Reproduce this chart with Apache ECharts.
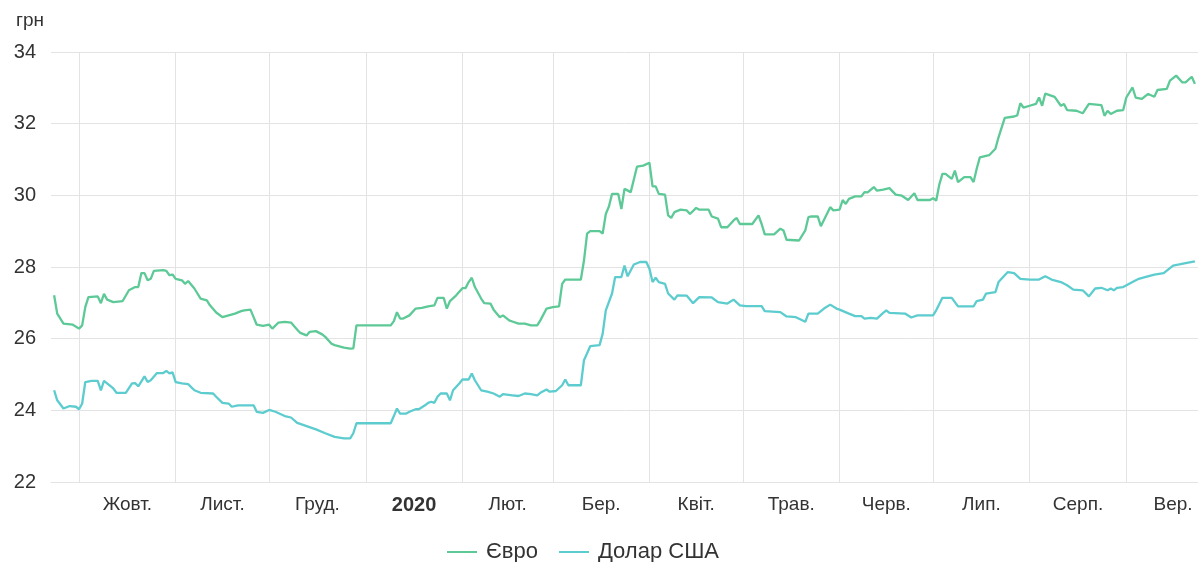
<!DOCTYPE html>
<html>
<head>
<meta charset="utf-8">
<script src="https://cdn.jsdelivr.net/npm/echarts@6/dist/echarts.min.js"></script>
<style>
  html, body { margin: 0; padding: 0; background: #fff; }
  #chart { width: 1198px; height: 562px; }
</style>
</head>
<body>
<div id="chart"></div>
<script>
// Офіційний курс гривні: євро та долар США, вересень 2019 – вересень 2020

const eurDates = [
  '2019-09-23','2019-09-24','2019-09-26','2019-09-29','2019-10-01','2019-10-02','2019-10-03','2019-10-04',
  '2019-10-07','2019-10-08','2019-10-09','2019-10-10','2019-10-12','2019-10-15','2019-10-17','2019-10-19',
  '2019-10-20','2019-10-21','2019-10-22','2019-10-23','2019-10-24','2019-10-25','2019-10-28','2019-10-29',
  '2019-10-30','2019-10-31','2019-11-01','2019-11-03','2019-11-04','2019-11-05','2019-11-07','2019-11-09',
  '2019-11-11','2019-11-12','2019-11-14','2019-11-16','2019-11-18','2019-11-20','2019-11-22','2019-11-23',
  '2019-11-25','2019-11-26','2019-11-27','2019-11-29','2019-12-01','2019-12-02','2019-12-04','2019-12-06',
  '2019-12-08','2019-12-10','2019-12-11','2019-12-13','2019-12-14','2019-12-16','2019-12-18','2019-12-19',
  '2019-12-21','2019-12-22','2019-12-25','2019-12-27','2019-12-28','2019-12-29','2020-01-09','2020-01-10',
  '2020-01-11','2020-01-12','2020-01-13','2020-01-15','2020-01-17','2020-01-19','2020-01-21','2020-01-23',
  '2020-01-24','2020-01-26','2020-01-27','2020-01-28','2020-01-30','2020-02-01','2020-02-02','2020-02-03',
  '2020-02-04','2020-02-05','2020-02-07','2020-02-08','2020-02-10','2020-02-11','2020-02-13','2020-02-14',
  '2020-02-16','2020-02-17','2020-02-19','2020-02-21','2020-02-23','2020-02-25','2020-02-26','2020-02-28',
  '2020-03-01','2020-03-03','2020-03-04','2020-03-05','2020-03-10','2020-03-11','2020-03-12','2020-03-13',
  '2020-03-16','2020-03-17','2020-03-18','2020-03-19','2020-03-20','2020-03-22','2020-03-23','2020-03-24',
  '2020-03-26','2020-03-28','2020-03-30','2020-04-01','2020-04-02','2020-04-03','2020-04-04','2020-04-06',
  '2020-04-07','2020-04-08','2020-04-09','2020-04-11','2020-04-13','2020-04-14','2020-04-16','2020-04-17',
  '2020-04-20','2020-04-21','2020-04-23','2020-04-24','2020-04-26','2020-04-28','2020-04-29','2020-04-30',
  '2020-05-04','2020-05-06','2020-05-07','2020-05-08','2020-05-11','2020-05-13','2020-05-14','2020-05-15',
  '2020-05-19','2020-05-21','2020-05-22','2020-05-23','2020-05-25','2020-05-26','2020-05-29','2020-05-30',
  '2020-06-01','2020-06-02','2020-06-03','2020-06-04','2020-06-06','2020-06-08','2020-06-09','2020-06-10',
  '2020-06-12','2020-06-13','2020-06-15','2020-06-17','2020-06-19','2020-06-21','2020-06-23','2020-06-25',
  '2020-06-26','2020-06-30','2020-07-01','2020-07-02','2020-07-03','2020-07-04','2020-07-05','2020-07-07',
  '2020-07-08','2020-07-09','2020-07-11','2020-07-13','2020-07-14','2020-07-15','2020-07-16','2020-07-19',
  '2020-07-21','2020-07-22','2020-07-24','2020-07-27','2020-07-28','2020-07-29','2020-07-30','2020-08-01',
  '2020-08-03','2020-08-04','2020-08-05','2020-08-06','2020-08-09','2020-08-11','2020-08-12','2020-08-13',
  '2020-08-16','2020-08-18','2020-08-20','2020-08-24','2020-08-25','2020-08-26','2020-08-27','2020-08-29',
  '2020-08-31','2020-09-01','2020-09-03','2020-09-04','2020-09-06','2020-09-08','2020-09-10','2020-09-11',
  '2020-09-14','2020-09-15','2020-09-17','2020-09-19','2020-09-20','2020-09-22','2020-09-23'
];
const eurValues = [
  27.21,26.70,26.42,26.39,26.28,26.37,26.88,27.16,
  27.18,26.99,27.25,27.09,27.02,27.05,27.35,27.44,
  27.44,27.83,27.83,27.63,27.67,27.89,27.91,27.89,
  27.77,27.79,27.67,27.63,27.53,27.61,27.40,27.12,
  27.07,26.93,26.73,26.60,26.65,26.70,26.77,26.79,
  26.81,26.60,26.39,26.36,26.39,26.28,26.45,26.47,
  26.45,26.25,26.16,26.09,26.19,26.21,26.12,26.05,
  25.86,25.82,25.75,25.72,25.73,26.37,26.37,26.49,
  26.74,26.56,26.56,26.65,26.84,26.86,26.90,26.93,
  27.14,27.14,26.84,27.05,27.21,27.41,27.41,27.58,
  27.70,27.44,27.12,26.99,26.98,26.81,26.60,26.65,
  26.51,26.48,26.42,26.42,26.37,26.37,26.51,26.84,
  26.88,26.90,27.53,27.65,27.65,28.18,28.93,29.00,
  29.00,28.93,29.48,29.69,30.04,30.04,29.62,30.18,
  30.09,30.80,30.83,30.91,30.25,30.25,30.04,30.02,
  29.44,29.37,29.53,29.60,29.58,29.48,29.65,29.60,
  29.60,29.41,29.35,29.11,29.11,29.30,29.37,29.20,
  29.20,29.44,29.20,28.91,28.91,29.07,29.02,28.76,
  28.74,29.02,29.39,29.41,29.41,29.14,29.67,29.58,
  29.60,29.87,29.76,29.90,29.97,29.97,30.09,30.08,
  30.23,30.13,30.16,30.20,30.02,29.99,29.87,30.06,
  29.87,29.87,29.92,29.85,30.30,30.60,30.60,30.46,
  30.69,30.37,30.51,30.51,30.37,30.74,31.06,31.12,
  31.30,31.62,32.16,32.20,32.23,32.57,32.45,32.50,
  32.55,32.73,32.50,32.84,32.75,32.50,32.55,32.38,
  32.36,32.29,32.55,32.52,32.22,32.36,32.27,32.36,
  32.38,32.73,33.01,32.73,32.69,32.83,32.75,32.94,
  32.97,33.20,33.34,33.15,33.15,33.31,33.11
];

const usdDates = [
  '2019-09-23','2019-09-24','2019-09-26','2019-09-28','2019-09-30','2019-10-01','2019-10-02','2019-10-03',
  '2019-10-05','2019-10-07','2019-10-08','2019-10-09','2019-10-12','2019-10-13','2019-10-16','2019-10-18',
  '2019-10-19','2019-10-20','2019-10-22','2019-10-23','2019-10-24','2019-10-26','2019-10-28','2019-10-29',
  '2019-10-30','2019-10-31','2019-11-01','2019-11-03','2019-11-05','2019-11-07','2019-11-09','2019-11-13',
  '2019-11-14','2019-11-16','2019-11-18','2019-11-19','2019-11-21','2019-11-26','2019-11-27','2019-11-29',
  '2019-12-01','2019-12-03','2019-12-06','2019-12-08','2019-12-10','2019-12-13','2019-12-16','2019-12-19',
  '2019-12-22','2019-12-25','2019-12-27','2019-12-28','2019-12-29','2020-01-09','2020-01-10','2020-01-11',
  '2020-01-12','2020-01-14','2020-01-15','2020-01-17','2020-01-18','2020-01-20','2020-01-21','2020-01-22',
  '2020-01-23','2020-01-24','2020-01-25','2020-01-27','2020-01-28','2020-01-29','2020-01-31','2020-02-01',
  '2020-02-03','2020-02-04','2020-02-05','2020-02-07','2020-02-09','2020-02-11','2020-02-13','2020-02-14',
  '2020-02-17','2020-02-19','2020-02-21','2020-02-23','2020-02-25','2020-02-26','2020-02-28','2020-02-29',
  '2020-03-02','2020-03-04','2020-03-05','2020-03-06','2020-03-10','2020-03-11','2020-03-13','2020-03-16',
  '2020-03-17','2020-03-18','2020-03-20','2020-03-21','2020-03-23','2020-03-24','2020-03-25','2020-03-27',
  '2020-03-29','2020-03-31','2020-04-01','2020-04-02','2020-04-03','2020-04-04','2020-04-06','2020-04-07',
  '2020-04-09','2020-04-10','2020-04-13','2020-04-15','2020-04-17','2020-04-21','2020-04-23','2020-04-26',
  '2020-04-28','2020-04-30','2020-05-02','2020-05-07','2020-05-08','2020-05-13','2020-05-15','2020-05-18',
  '2020-05-21','2020-05-22','2020-05-25','2020-05-27','2020-05-29','2020-05-31','2020-06-01','2020-06-04',
  '2020-06-06','2020-06-08','2020-06-09','2020-06-11','2020-06-13','2020-06-15','2020-06-16','2020-06-17',
  '2020-06-22','2020-06-24','2020-06-26','2020-07-01','2020-07-02','2020-07-04','2020-07-07','2020-07-09',
  '2020-07-14','2020-07-15','2020-07-17','2020-07-18','2020-07-21','2020-07-22','2020-07-24','2020-07-25',
  '2020-07-27','2020-07-29','2020-08-01','2020-08-04','2020-08-06','2020-08-08','2020-08-11','2020-08-13',
  '2020-08-15','2020-08-18','2020-08-20','2020-08-22','2020-08-24','2020-08-26','2020-08-27','2020-08-28',
  '2020-08-29','2020-08-31','2020-09-03','2020-09-05','2020-09-07','2020-09-10','2020-09-13','2020-09-16',
  '2020-09-18','2020-09-20','2020-09-23'
];
const usdValues = [
  24.56,24.28,24.05,24.12,24.10,24.03,24.19,24.79,
  24.82,24.82,24.56,24.82,24.61,24.49,24.49,24.75,
  24.76,24.67,24.95,24.79,24.84,25.04,25.04,25.10,
  25.03,25.06,24.79,24.75,24.73,24.56,24.49,24.47,
  24.38,24.21,24.19,24.10,24.14,24.14,23.96,23.93,
  24.01,23.96,23.84,23.80,23.65,23.56,23.47,23.36,
  23.26,23.22,23.22,23.36,23.64,23.64,23.84,24.05,
  23.91,23.91,23.96,24.03,24.03,24.14,24.21,24.24,
  24.21,24.38,24.47,24.47,24.28,24.56,24.75,24.86,
  24.86,25.03,24.84,24.56,24.52,24.47,24.38,24.45,
  24.42,24.40,24.47,24.45,24.42,24.49,24.58,24.52,
  24.54,24.70,24.86,24.70,24.70,25.40,25.79,25.82,
  26.14,26.79,27.26,27.72,27.72,28.04,27.74,28.07,
  28.14,28.14,27.95,27.58,27.70,27.58,27.53,27.26,
  27.09,27.21,27.20,26.99,27.16,27.15,27.02,26.98,
  27.09,26.93,26.91,26.91,26.77,26.74,26.62,26.60,
  26.47,26.70,26.70,26.84,26.95,26.84,26.81,26.70,
  26.63,26.63,26.56,26.58,26.56,26.72,26.79,26.72,
  26.70,26.59,26.65,26.65,26.79,27.14,27.14,26.90,
  26.90,27.05,27.09,27.26,27.30,27.58,27.77,27.86,
  27.83,27.67,27.65,27.65,27.74,27.65,27.58,27.49,
  27.37,27.35,27.18,27.40,27.42,27.35,27.40,27.35,
  27.42,27.44,27.58,27.67,27.72,27.79,27.83,28.04,
  28.07,28.11,28.16
];

// Початки місяців (вертикальна сітка) і підписи місяців
const monthStarts = [
  '2019-10-01','2019-11-01','2019-12-01','2020-01-01','2020-02-01','2020-03-01',
  '2020-04-01','2020-05-01','2020-06-01','2020-07-01','2020-08-01','2020-09-01','2020-10-01'
];
const monthLabels = ['Жовт.','Лист.','Груд.','2020','Лют.','Бер.','Квіт.','Трав.','Черв.','Лип.','Серп.','Вер.'];

const yTicks = { min: 22, max: 34, step: 2 };
const seriesNames = ['Євро', 'Долар США'];

const FONT = '"Liberation Sans", Arial, Helvetica, sans-serif';
const TEXT = '#333333';
const GRID = '#e3e3e3';

const toPairs = (dates, vals) => dates.map((d, i) => [d, vals[i]]);
const ts = (s) => new Date(s + 'T00:00:00').getTime();

// підпис кожного місяця — посередині між його початком і початком наступного
const monthMarks = monthLabels.map((lab, i) => {
  const mid = (ts(monthStarts[i]) + ts(monthStarts[i + 1])) / 2;
  return { value: [mid, yTicks.min], name: lab };
});

const chart = echarts.init(document.getElementById('chart'), null, { renderer: 'canvas' });

chart.setOption({
  animation: false,
  backgroundColor: '#ffffff',
  textStyle: { fontFamily: FONT },
  grid: { left: 51, right: 0, top: 52, bottom: 80, containLabel: false },
  legend: {
    data: seriesNames,
    left: 447,
    top: 541,
    padding: 0,
    icon: 'path://M0 0H30V2H0Z',
    itemWidth: 30,
    itemHeight: 2,
    itemGap: 21,
    textStyle: { fontFamily: FONT, fontSize: 22, color: TEXT, padding: [0, 0, 0, 4] }
  },
  xAxis: {
    type: 'time',
    min: '2019-09-22',
    max: '2020-09-24',
    axisLine: { show: true, lineStyle: { color: GRID, width: 1 } },
    axisTick: { show: false },
    axisLabel: { show: false },
    splitLine: { show: false }
  },
  yAxis: {
    type: 'value',
    min: yTicks.min,
    max: yTicks.max,
    interval: yTicks.step,
    name: 'грн',
    nameLocation: 'end',
    nameGap: 22,
    nameTextStyle: { fontFamily: FONT, fontSize: 19, color: TEXT, align: 'right', padding: [0, 7, 0, 0] },
    axisLine: { show: false },
    axisTick: { show: false },
    axisLabel: { fontFamily: FONT, fontSize: 20, color: TEXT, margin: 15 },
    splitLine: { lineStyle: { color: GRID, width: 1 } }
  },
  series: [
    {
      name: seriesNames[0],
      type: 'line',
      data: toPairs(eurDates, eurValues),
      showSymbol: false,
      symbol: 'none',
      color: '#5cc996',
      lineStyle: { width: 2.3, color: '#5cc996' },
      z: 3
    },
    {
      name: seriesNames[1],
      type: 'line',
      data: toPairs(usdDates, usdValues),
      showSymbol: false,
      symbol: 'none',
      color: '#5ccccf',
      lineStyle: { width: 2.3, color: '#5ccccf' },
      z: 3
    },
    {
      name: 'місяці',
      type: 'scatter',
      data: monthMarks,
      symbolSize: 0.1,
      itemStyle: { color: '#ffffff', opacity: 1 },
      silent: true,
      clip: false,
      z: 1,
      label: {
        show: true,
        opacity: 1,
        position: 'bottom',
        distance: 13,
        fontFamily: FONT,
        fontSize: 19,
        color: TEXT,
        formatter: (p) => (p.name === '2020' ? '{b|2020}' : p.name),
        rich: { b: { fontFamily: FONT, fontSize: 20, fontWeight: 'bold', color: TEXT } }
      },
      markLine: {
        silent: true,
        symbol: ['none', 'none'],
        z: 1,
        label: { show: false },
        lineStyle: { color: GRID, width: 1, type: 'solid' },
        data: monthStarts.slice(0, -1).map((d) => ({ xAxis: d }))
      }
    }
  ]
});
</script>
</body>
</html>
